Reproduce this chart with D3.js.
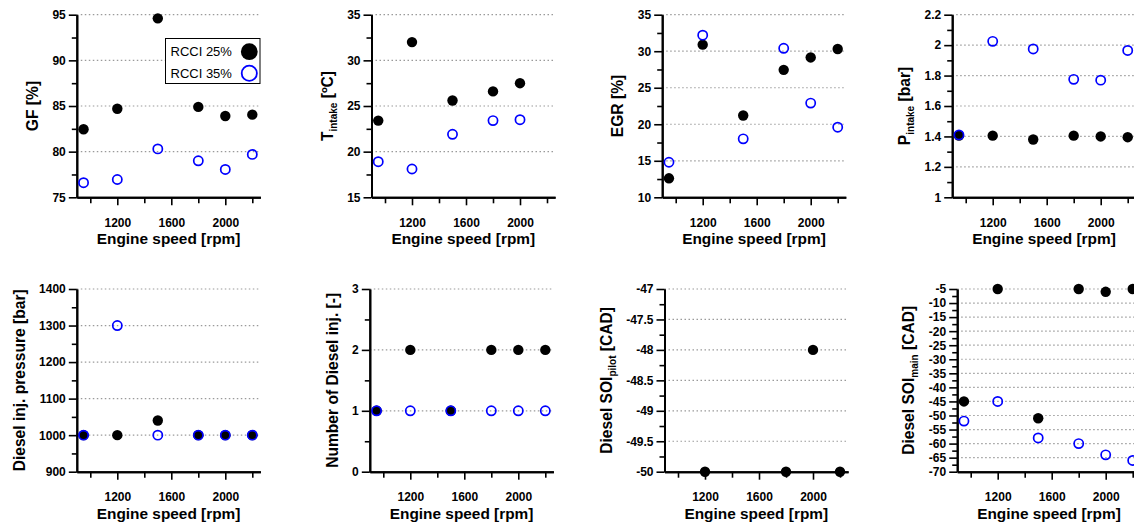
<!DOCTYPE html>
<html>
<head>
<meta charset="utf-8">
<script src="https://cdn.jsdelivr.net/npm/d3@7"></script>
<style>
  body { margin: 0; background: #fff; }
  svg { display: block; font-family: Arial, "Liberation Sans", sans-serif; }
  .tick text { font-size: 12px; font-weight: bold; fill: #000; }
  .domain { stroke: #000; stroke-width: 2; }
  .tick line { stroke: #000; stroke-width: 1.6; }
</style>
</head>
<body>
<script>
// engine speeds of the operating points
const speeds = [950, 1200, 1500, 1800, 2000, 2200];

// series values (RCCI 25% / RCCI 35%), null = no point
const gf25 = [82.45, 84.7, 94.6, 84.9, 83.9, 84.05];
const gf35 = [76.6, 76.95, 80.3, 79.0, 78.05, 79.7];
const tIntake25 = [23.4, 32.0, 25.6, 26.6, 27.5, null];
const tIntake35 = [18.9, 18.1, 21.9, 23.4, 23.5, null];
const egr25 = [12.6, 30.9, 21.2, 27.45, 29.15, 30.3];
const egr35 = [14.8, 32.2, 18.0, 30.4, 22.9, 19.6];
const pIntake25 = [1.405, 1.405, 1.38, 1.405, 1.40, 1.395];
const pIntake35 = [1.41, 2.025, 1.975, 1.775, 1.77, 1.965];
const injP25 = [1000, 1000, 1040, 1000, 1000, 1000];
const injP35 = [1000, 1300, 1000, 1000, 1000, 1000];
const nInj25 = [1, 2, 1, 2, 2, 2];
const nInj35 = [1, 1, 1, 1, 1, 1];
const soiPilot25 = [null, -50, null, -50, -48, -50];
const soiPilot35 = [null, null, null, null, null, null];
const soiMain25 = [-45, -5, -51, -5, -6, -5];
const soiMain35 = [-52, -45, -58, -60, -64, -66];

// axis ticks
const xDomain = [900, 2260];
const xTicksLabeled = [1200, 1600, 2000];
const xTicksMinor = [1000, 1400, 1800, 2200];
const gfTicks = [75, 80, 85, 90, 95];
const tIntakeTicks = [15, 20, 25, 30, 35];
const egrTicks = [10, 15, 20, 25, 30, 35];
const pIntakeTicks = [1, 1.2, 1.4, 1.6, 1.8, 2, 2.2];
const injPTicks = [900, 1000, 1100, 1200, 1300, 1400];
const nInjTicks = [0, 1, 2, 3];
const soiPilotTicks = [-50, -49.5, -49, -48.5, -48, -47.5, -47];
const soiMainTicks = [-70, -65, -60, -55, -50, -45, -40, -35, -30, -25, -20, -15, -10, -5];

const xTitle = "Engine speed [rpm]";
const seriesNames = ["RCCI 25%", "RCCI 35%"];

const panels = [
  { title: [["GF [%]"]], ticks: gfTicks, s25: gf25, s35: gf35, left: 76.8, row: 0, legend: true },
  { title: [["T"], ["intake", true], [" [ºC]"]], ticks: tIntakeTicks, s25: tIntake25, s35: tIntake35, left: 371.5, row: 0 },
  { title: [["EGR [%]"]], ticks: egrTicks, s25: egr25, s35: egr35, left: 662.2, row: 0 },
  { title: [["P"], ["intake", true], [" [bar]"]], ticks: pIntakeTicks, s25: pIntake25, s35: pIntake35, left: 952.2, row: 0 },
  { title: [["Diesel inj. pressure [bar]"]], ticks: injPTicks, s25: injP25, s35: injP35, left: 76.8, row: 1 },
  { title: [["Number of Diesel inj. [-]"]], ticks: nInjTicks, s25: nInj25, s35: nInj35, left: 369.8, row: 1 },
  { title: [["Diesel SOI"], ["pilot", true], [" [CAD]"]], ticks: soiPilotTicks, s25: soiPilot25, s35: soiPilot35, left: 664.5, row: 1 },
  { title: [["Diesel SOI"], ["main", true], [" [CAD]"]], ticks: soiMainTicks, s25: soiMain25, s35: soiMain35, left: 957.2, row: 1 }
];

const rowTop = [14.7, 289];
const rowBottom = [197.3, 471.7];
const plotW = 183.6;
const blue = "#0000ff";

const svg = d3.select("body").append("svg")
    .attr("width", 1134)
    .attr("height", 524);

const fmt = d => String(d);

panels.forEach(p => {
    const top = rowTop[p.row], bottom = rowBottom[p.row];
    const x = d3.scaleLinear().domain(xDomain).range([p.left, p.left + plotW]);
    const ext = d3.extent(p.ticks);
    const y = d3.scaleLinear().domain(ext).range([bottom, top]);
    const minor = p.ticks.slice(1).map((v, i) => (v + p.ticks[i]) / 2);

    const g = svg.append("g");

    // dotted grid at major ticks
    g.append("g").selectAll("line")
        .data(p.ticks.filter(v => v !== ext[0]))
        .enter().append("line")
        .attr("x1", x(xDomain[0]))
        .attr("x2", x(xDomain[1]))
        .attr("y1", d => y(d))
        .attr("y2", d => y(d))
        .attr("stroke", "#9a9a9a")
        .attr("stroke-width", 1.2)
        .attr("stroke-dasharray", "1.5,2.5");

    // x axis
    g.append("g")
        .attr("transform", `translate(0,${bottom})`)
        .call(d3.axisBottom(x).tickValues(xTicksMinor).tickSize(6).tickSizeOuter(0).tickFormat(""));
    g.append("g")
        .attr("transform", `translate(0,${bottom})`)
        .call(d3.axisBottom(x).tickValues(xTicksLabeled).tickSize(8).tickPadding(13).tickSizeOuter(0).tickFormat(fmt));

    // y axis
    g.append("g")
        .attr("transform", `translate(${p.left},0)`)
        .call(d3.axisLeft(y).tickValues(minor).tickSize(5).tickSizeOuter(0).tickFormat(""));
    const yAx = g.append("g")
        .attr("transform", `translate(${p.left},0)`)
        .call(d3.axisLeft(y).tickValues(p.ticks).tickSize(8).tickPadding(3).tickSizeOuter(0).tickFormat(fmt));

    let minX = Infinity;
    yAx.selectAll(".tick text").each(function () {
        const b = this.getBBox();
        minX = Math.min(minX, b.x);
    });
    const titleX = p.left + minX - 20;

    // x title
    g.append("text")
        .attr("x", (x.range()[0] + x.range()[1]) / 2)
        .attr("y", bottom + 47)
        .attr("text-anchor", "middle")
        .attr("font-size", 15.4)
        .attr("font-weight", "bold")
        .text(xTitle);

    // y title with subscripts
    const yt = g.append("text")
        .attr("transform", `translate(${titleX},${(top + bottom) / 2}) rotate(-90)`)
        .attr("text-anchor", "middle")
        .attr("dy", "0.36em")
        .attr("font-size", 15.6)
        .attr("font-weight", "bold");
    let shifted = false;
    p.title.forEach(([t, sub]) => {
        const ts = yt.append("tspan").text(t);
        if (sub) {
            ts.attr("font-size", 10).attr("dy", 4);
            shifted = true;
        } else if (shifted) {
            ts.attr("dy", -4);
            shifted = false;
        }
    });

    // points
    const pts25 = speeds.map((s, i) => ({ s, v: p.s25[i] })).filter(d => d.v !== null);
    const pts35 = speeds.map((s, i) => ({ s, v: p.s35[i] })).filter(d => d.v !== null);

    g.append("g").selectAll("circle")
        .data(pts25)
        .enter().append("circle")
        .attr("cx", d => x(d.s))
        .attr("cy", d => y(d.v))
        .attr("r", 5.2)
        .attr("fill", "#000");

    g.append("g").selectAll("circle")
        .data(pts35)
        .enter().append("circle")
        .attr("cx", d => x(d.s))
        .attr("cy", d => y(d.v))
        .attr("r", 4.6)
        .attr("fill", "none")
        .attr("stroke", blue)
        .attr("stroke-width", 1.7);

    if (p.legend) {
        const lg = g.append("g");
        lg.append("rect")
            .attr("x", 165.5).attr("y", 38.5)
            .attr("width", 94.5).attr("height", 45)
            .attr("fill", "#fff")
            .attr("stroke", "#000")
            .attr("stroke-width", 1);
        seriesNames.forEach((name, i) => {
            const cy = 51.7 + i * 21.6;
            lg.append("text")
                .attr("x", 170.5)
                .attr("y", cy)
                .attr("dy", "0.36em")
                .attr("font-size", 13)
                .text(name);
            lg.append("circle")
                .attr("cx", 249.3)
                .attr("cy", cy)
                .attr("r", i === 0 ? 8.4 : 7.6)
                .attr("fill", i === 0 ? "#000" : "none")
                .attr("stroke", i === 0 ? "none" : blue)
                .attr("stroke-width", 1.8);
        });
    }
});
</script>
</body>
</html>
